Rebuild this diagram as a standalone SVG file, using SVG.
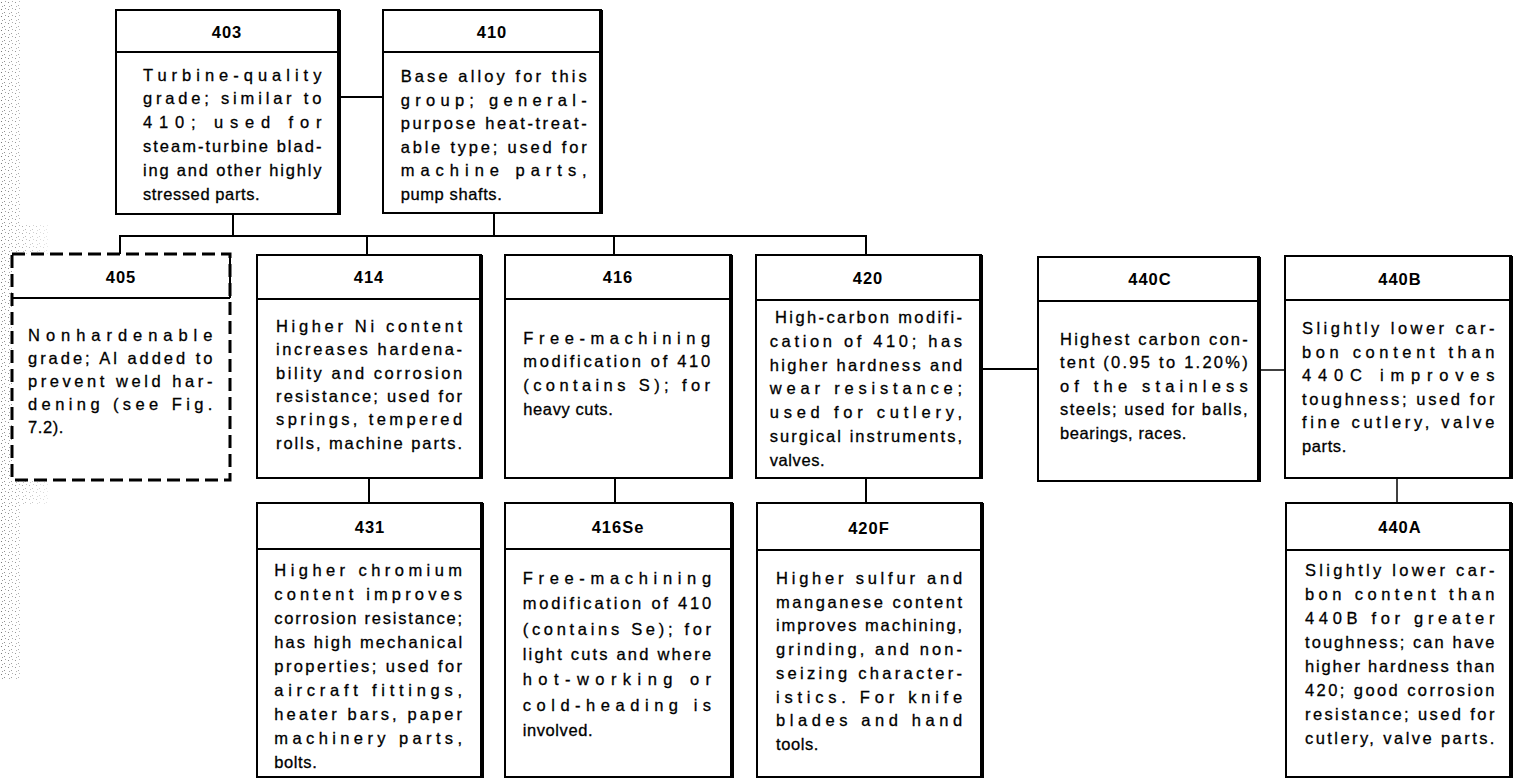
<svg xmlns="http://www.w3.org/2000/svg" width="1517" height="778" viewBox="0 0 1517 778">
<defs>
<style>
.bg{fill:#fff}
.box{fill:#fff;stroke:#000;stroke-width:2}
.dbox{fill:#fff;stroke:#000;stroke-width:3;stroke-dasharray:13 6}
.rs{stroke:#000;stroke-width:4}
.hd{stroke:#000;stroke-width:2}
.c{stroke:#000;stroke-width:2;fill:none}
.lbl{font-family:"Liberation Sans",Arial,sans-serif;font-weight:bold;font-size:16.5px;letter-spacing:1px;text-anchor:middle;fill:#000}
.t{font-family:"Liberation Sans",Arial,sans-serif;font-size:16.5px;fill:#000;stroke:#000;stroke-width:0.3px;letter-spacing:0.6px}
</style>
<pattern id="stip" width="7" height="7" patternUnits="userSpaceOnUse">
<rect x="1" y="2" width="1" height="1" fill="#777"/>
<rect x="4" y="5" width="1" height="1" fill="#888"/>
<rect x="5" y="1" width="1" height="1" fill="#999"/>
<rect x="2" y="6" width="1" height="1" fill="#999"/>
</pattern>
<linearGradient id="fade" x1="0" y1="0" x2="1" y2="0">
<stop offset="0" stop-color="#fff" stop-opacity="1"/>
<stop offset="1" stop-color="#fff" stop-opacity="0"/>
</linearGradient>
<mask id="fm"><rect x="0" y="0" width="60" height="778" fill="url(#fade)"/></mask>
</defs>
<rect class="bg" x="0" y="0" width="1517" height="778"/>
<g id="stipple" mask="url(#fm)">
<rect x="0" y="0" width="22" height="680" fill="url(#stip)"/>
<rect x="0" y="225" width="50" height="280" fill="url(#stip)"/>
</g>

<g id="connectors">
<line class="c" x1="339" y1="97" x2="383" y2="97"/>
<line class="c" x1="233" y1="214" x2="233" y2="236"/>
<line class="c" x1="494" y1="213" x2="494" y2="236"/>
<polyline class="c" points="120,254 120,236 866,236 866,255"/>
<line class="c" x1="367" y1="236" x2="367" y2="255"/>
<line class="c" x1="614" y1="236" x2="614" y2="255"/>
<line class="c" x1="981" y1="369" x2="1038" y2="369"/>
<line class="c" x1="1259" y1="370" x2="1285" y2="370" style="stroke-width:1.5"/>
<line class="c" x1="369" y1="478" x2="369" y2="503"/>
<line class="c" x1="615" y1="478" x2="615" y2="503"/>
<line class="c" x1="866" y1="478" x2="866" y2="503"/>
<line class="c" x1="1397" y1="478" x2="1397" y2="503" style="stroke-width:1.5"/>
</g>

<g id="n403">
<rect class="box" x="116" y="10" width="223" height="204"/>
<line class="rs" x1="339" y1="10" x2="339" y2="215"/>
<line class="hd" x1="116" y1="52" x2="339" y2="52"/>
<text class="lbl" x="227" y="37.5">403</text>
<text class="t" x="143" y="80.5" textLength="179" lengthAdjust="spacing">Turbine-quality</text>
<text class="t" x="143" y="104.3" textLength="179" lengthAdjust="spacing">grade; similar to</text>
<text class="t" x="143" y="128.1" textLength="179" lengthAdjust="spacing">410; used for</text>
<text class="t" x="143" y="151.9" textLength="179" lengthAdjust="spacing">steam-turbine blad-</text>
<text class="t" x="143" y="175.7" textLength="179" lengthAdjust="spacing">ing and other highly</text>
<text class="t" x="143" y="199.5">stressed parts.</text>
</g>

<g id="n410">
<rect class="box" x="383" y="10" width="218" height="203"/>
<line class="rs" x1="601" y1="10" x2="601" y2="214"/>
<line class="hd" x1="383" y1="52" x2="601" y2="52"/>
<text class="lbl" x="492" y="37.5">410</text>
<text class="t" x="400.7" y="82" textLength="186.6" lengthAdjust="spacing">Base alloy for this</text>
<text class="t" x="400.7" y="105.6" textLength="186.6" lengthAdjust="spacing">group; general-</text>
<text class="t" x="400.7" y="129.2" textLength="186.6" lengthAdjust="spacing">purpose heat-treat-</text>
<text class="t" x="400.7" y="152.8" textLength="186.6" lengthAdjust="spacing">able type; used for</text>
<text class="t" x="400.7" y="176.4" textLength="186.6" lengthAdjust="spacing">machine parts,</text>
<text class="t" x="400.7" y="200">pump shafts.</text>
</g>

<g id="n405">
<rect class="dbox" x="12" y="254" width="218" height="226"/>
<line class="hd" x1="12" y1="298" x2="230" y2="298"/>
<line class="hd" x1="230" y1="254" x2="230" y2="298"/>
<text class="lbl" x="121" y="282.5">405</text>
<text class="t" x="28" y="341" textLength="185" lengthAdjust="spacing">Nonhardenable</text>
<text class="t" x="28" y="364" textLength="185" lengthAdjust="spacing">grade; Al added to</text>
<text class="t" x="28" y="387" textLength="185" lengthAdjust="spacing">prevent weld har-</text>
<text class="t" x="28" y="410" textLength="185" lengthAdjust="spacing">dening (see Fig.</text>
<text class="t" x="28" y="433">7.2).</text>
</g>

<g id="n414">
<rect class="box" x="257" y="255" width="224" height="223"/>
<line class="rs" x1="481" y1="255" x2="481" y2="479"/>
<line class="hd" x1="257" y1="299" x2="481" y2="299"/>
<text class="lbl" x="369" y="282.5">414</text>
<text class="t" x="276" y="332" textLength="186.7" lengthAdjust="spacing">Higher Ni content</text>
<text class="t" x="276" y="355.3" textLength="186.7" lengthAdjust="spacing">increases hardena-</text>
<text class="t" x="276" y="378.6" textLength="186.7" lengthAdjust="spacing">bility and corrosion</text>
<text class="t" x="276" y="401.9" textLength="186.7" lengthAdjust="spacing">resistance; used for</text>
<text class="t" x="276" y="425.2" textLength="186.7" lengthAdjust="spacing">springs, tempered</text>
<text class="t" x="276" y="448.5" textLength="186.7" lengthAdjust="spacing">rolls, machine parts.</text>
</g>

<g id="n416">
<rect class="box" x="505" y="255" width="226" height="223"/>
<line class="rs" x1="731" y1="255" x2="731" y2="479"/>
<line class="hd" x1="505" y1="299" x2="731" y2="299"/>
<text class="lbl" x="618" y="282.5">416</text>
<text class="t" x="523.3" y="343.5" textLength="187.4" lengthAdjust="spacing">Free-machining</text>
<text class="t" x="523.3" y="367.4" textLength="187.4" lengthAdjust="spacing">modification of 410</text>
<text class="t" x="523.3" y="391.3" textLength="187.4" lengthAdjust="spacing">(contains S); for</text>
<text class="t" x="523.3" y="415.2">heavy cuts.</text>
</g>

<g id="n420">
<rect class="box" x="756" y="255" width="225" height="223"/>
<line class="rs" x1="981" y1="255" x2="981" y2="479"/>
<line class="hd" x1="756" y1="300" x2="981" y2="300"/>
<text class="lbl" x="868" y="283.5">420</text>
<text class="t" x="775" y="323" textLength="187.7" lengthAdjust="spacing">High-carbon modifi-</text>
<text class="t" x="769.7" y="346.8" textLength="193" lengthAdjust="spacing">cation of 410; has</text>
<text class="t" x="769.7" y="370.6" textLength="193" lengthAdjust="spacing">higher hardness and</text>
<text class="t" x="769.7" y="394.4" textLength="193" lengthAdjust="spacing">wear resistance;</text>
<text class="t" x="769.7" y="418.2" textLength="193" lengthAdjust="spacing">used for cutlery,</text>
<text class="t" x="769.7" y="442" textLength="193" lengthAdjust="spacing">surgical instruments,</text>
<text class="t" x="769.7" y="465.8">valves.</text>
</g>

<g id="n440C">
<rect class="box" x="1038" y="257" width="221" height="224"/>
<line class="rs" x1="1259" y1="257" x2="1259" y2="482"/>
<line class="hd" x1="1038" y1="301" x2="1259" y2="301"/>
<text class="lbl" x="1150" y="285">440C</text>
<text class="t" x="1060" y="344.5" textLength="188.3" lengthAdjust="spacing">Highest carbon con-</text>
<text class="t" x="1060" y="368.1" textLength="188.3" lengthAdjust="spacing">tent (0.95 to 1.20%)</text>
<text class="t" x="1060" y="391.7" textLength="188.3" lengthAdjust="spacing">of the stainless</text>
<text class="t" x="1060" y="415.3" textLength="188.3" lengthAdjust="spacing">steels; used for balls,</text>
<text class="t" x="1060" y="439">bearings, races.</text>
</g>

<g id="n440B">
<rect class="box" x="1285" y="256" width="226" height="222"/>
<line class="rs" x1="1511" y1="256" x2="1511" y2="479"/>
<line class="hd" x1="1285" y1="300" x2="1511" y2="300"/>
<text class="lbl" x="1400" y="285">440B</text>
<text class="t" x="1302" y="334" textLength="193" lengthAdjust="spacing">Slightly lower car-</text>
<text class="t" x="1302" y="357.5" textLength="193" lengthAdjust="spacing">bon content than</text>
<text class="t" x="1302" y="381" textLength="193" lengthAdjust="spacing">440C improves</text>
<text class="t" x="1302" y="404.5" textLength="193" lengthAdjust="spacing">toughness; used for</text>
<text class="t" x="1302" y="428" textLength="193" lengthAdjust="spacing">fine cutlery, valve</text>
<text class="t" x="1302" y="451.5">parts.</text>
</g>

<g id="n431">
<rect class="box" x="257" y="503" width="225" height="274"/>
<line class="rs" x1="482" y1="503" x2="482" y2="778"/>
<line class="hd" x1="257" y1="549" x2="482" y2="549"/>
<text class="lbl" x="370" y="532.5">431</text>
<text class="t" x="274.3" y="575.5" textLength="188.4" lengthAdjust="spacing">Higher chromium</text>
<text class="t" x="274.3" y="599.6" textLength="188.4" lengthAdjust="spacing">content improves</text>
<text class="t" x="274.3" y="623.7" textLength="188.4" lengthAdjust="spacing">corrosion resistance;</text>
<text class="t" x="274.3" y="647.8" textLength="188.4" lengthAdjust="spacing">has high mechanical</text>
<text class="t" x="274.3" y="671.9" textLength="188.4" lengthAdjust="spacing">properties; used for</text>
<text class="t" x="274.3" y="696" textLength="188.4" lengthAdjust="spacing">aircraft fittings,</text>
<text class="t" x="274.3" y="720.1" textLength="188.4" lengthAdjust="spacing">heater bars, paper</text>
<text class="t" x="274.3" y="744.2" textLength="188.4" lengthAdjust="spacing">machinery parts,</text>
<text class="t" x="274.3" y="768.3">bolts.</text>
</g>

<g id="n416Se">
<rect class="box" x="505" y="503" width="227" height="274"/>
<line class="rs" x1="732" y1="503" x2="732" y2="778"/>
<line class="hd" x1="505" y1="549" x2="732" y2="549"/>
<text class="lbl" x="618" y="532.5">416Se</text>
<text class="t" x="522.7" y="584" textLength="189" lengthAdjust="spacing">Free-machining</text>
<text class="t" x="522.7" y="609.3" textLength="189" lengthAdjust="spacing">modification of 410</text>
<text class="t" x="522.7" y="634.6" textLength="189" lengthAdjust="spacing">(contains Se); for</text>
<text class="t" x="522.7" y="659.9" textLength="189" lengthAdjust="spacing">light cuts and where</text>
<text class="t" x="522.7" y="685.2" textLength="189" lengthAdjust="spacing">hot-working or</text>
<text class="t" x="522.7" y="710.5" textLength="189" lengthAdjust="spacing">cold-heading is</text>
<text class="t" x="522.7" y="735.8">involved.</text>
</g>

<g id="n420F">
<rect class="box" x="757" y="503" width="225" height="274"/>
<line class="rs" x1="982" y1="503" x2="982" y2="778"/>
<line class="hd" x1="757" y1="550" x2="982" y2="550"/>
<text class="lbl" x="869" y="534">420F</text>
<text class="t" x="776" y="584" textLength="186.7" lengthAdjust="spacing">Higher sulfur and</text>
<text class="t" x="776" y="607.7" textLength="186.7" lengthAdjust="spacing">manganese content</text>
<text class="t" x="776" y="631.4" textLength="186.7" lengthAdjust="spacing">improves machining,</text>
<text class="t" x="776" y="655.1" textLength="186.7" lengthAdjust="spacing">grinding, and non-</text>
<text class="t" x="776" y="678.8" textLength="186.7" lengthAdjust="spacing">seizing character-</text>
<text class="t" x="776" y="702.5" textLength="186.7" lengthAdjust="spacing">istics. For knife</text>
<text class="t" x="776" y="726.2" textLength="186.7" lengthAdjust="spacing">blades and hand</text>
<text class="t" x="776" y="749.9">tools.</text>
</g>

<g id="n440A">
<rect class="box" x="1286" y="503" width="225" height="274"/>
<line class="rs" x1="1511" y1="503" x2="1511" y2="778"/>
<line class="hd" x1="1286" y1="550" x2="1511" y2="550"/>
<text class="lbl" x="1400" y="532.5">440A</text>
<text class="t" x="1305" y="575.5" textLength="190" lengthAdjust="spacing">Slightly lower car-</text>
<text class="t" x="1305" y="599.5" textLength="190" lengthAdjust="spacing">bon content than</text>
<text class="t" x="1305" y="623.5" textLength="190" lengthAdjust="spacing">440B for greater</text>
<text class="t" x="1305" y="647.5" textLength="190" lengthAdjust="spacing">toughness; can have</text>
<text class="t" x="1305" y="671.5" textLength="190" lengthAdjust="spacing">higher hardness than</text>
<text class="t" x="1305" y="695.5" textLength="190" lengthAdjust="spacing">420; good corrosion</text>
<text class="t" x="1305" y="719.5" textLength="190" lengthAdjust="spacing">resistance; used for</text>
<text class="t" x="1305" y="743.5" textLength="190" lengthAdjust="spacing">cutlery, valve parts.</text>
</g>
</svg>
